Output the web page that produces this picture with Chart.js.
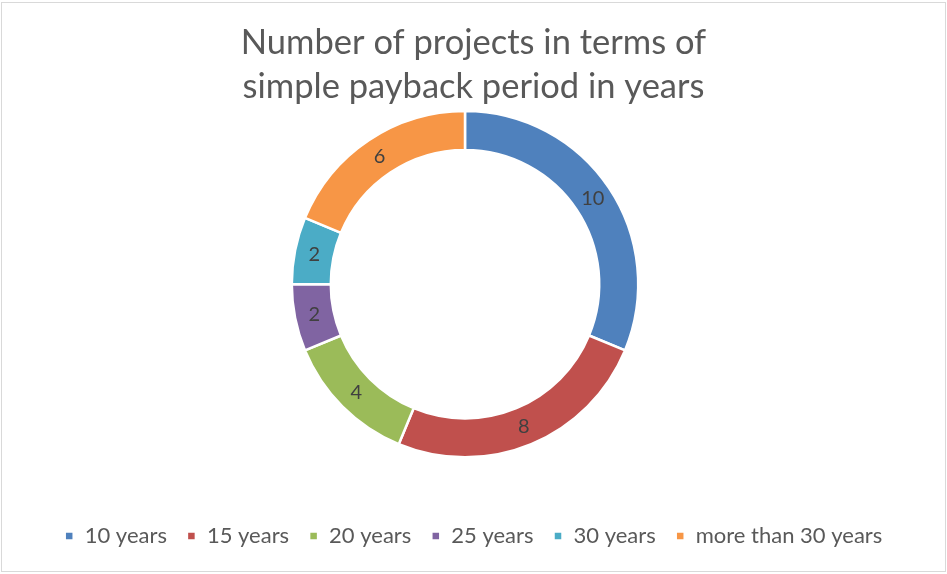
<!DOCTYPE html>
<html>
<head>
<meta charset="utf-8">
<script src="https://cdn.jsdelivr.net/npm/chart.js@4.4.1/dist/chart.umd.min.js"></script>
<style>
  html, body { margin: 0; padding: 0; background: #ffffff; }
  #wrap { width: 947px; height: 574px; position: relative; }
</style>
</head>
<body>
<div id="wrap"><canvas id="c" width="947" height="574"></canvas></div>
<script>
const categories = ["10 years", "15 years", "20 years", "25 years", "30 years", "more than 30 years"];
const projectCounts = [10, 8, 4, 2, 2, 6];
const sliceColors = ["#4F81BD", "#C0504D", "#9BBB59", "#8064A2", "#4BACC6", "#F79646"];
const titleLines = ["Number of projects in terms of", "simple payback period in years"];

const FONT = "Lato, 'Open Sans', 'Liberation Sans', sans-serif";

const framePlugin = {
  id: "frame",
  beforeDraw(chart) {
    const ctx = chart.ctx;
    ctx.save();
    ctx.fillStyle = "#ffffff";
    ctx.fillRect(0, 0, chart.width, chart.height);
    ctx.strokeStyle = "#d9d9d9";
    ctx.lineWidth = 1;
    ctx.strokeRect(1.5, 2.5, chart.width - 3, chart.height - 5);
    ctx.restore();
  }
};

const shiftPlugin = {
  id: "shiftArea",
  afterLayout(chart) {
    chart.chartArea.left -= 8.5;
    chart.chartArea.right -= 8.5;
  }
};

const labelPlugin = {
  id: "sliceLabels",
  afterDatasetsDraw(chart) {
    const ctx = chart.ctx;
    const meta = chart.getDatasetMeta(0);
    const values = chart.data.datasets[0].data;
    ctx.save();
    ctx.font = "20px " + FONT;
    ctx.fillStyle = "#404040";
    ctx.textAlign = "center";
    ctx.textBaseline = "middle";
    meta.data.forEach((arc, i) => {
      const p = arc.tooltipPosition();
      ctx.fillText(String(values[i]), p.x, p.y);
    });
    ctx.restore();
  }
};

new Chart(document.getElementById("c"), {
  type: "doughnut",
  data: {
    labels: categories,
    datasets: [{
      data: projectCounts,
      backgroundColor: sliceColors,
      borderColor: "#ffffff",
      borderWidth: 2.5,
      hoverOffset: 0
    }]
  },
  options: {
    responsive: false,
    animation: false,
    cutout: "77.5%",
    layout: { padding: { top: 0, bottom: 17, left: 0, right: 0 } },
    plugins: {
      tooltip: { enabled: false },
      title: {
        display: true,
        text: titleLines,
        color: "#595959",
        font: { family: FONT, size: 34.5, weight: "normal", lineHeight: 1.3 },
        padding: { top: 20, bottom: 0 }
      },
      legend: {
        display: true,
        position: "bottom",
        title: { display: true, text: "", padding: { top: 32, bottom: 0 }, font: { size: 12, lineHeight: 1.2 } },
        labels: {
          boxWidth: 9,
          boxHeight: 9,
          padding: 20,
          color: "#595959",
          font: { family: FONT, size: 22 }
        }
      }
    }
  },
  plugins: [framePlugin, shiftPlugin, labelPlugin]
});
</script>
</body>
</html>
